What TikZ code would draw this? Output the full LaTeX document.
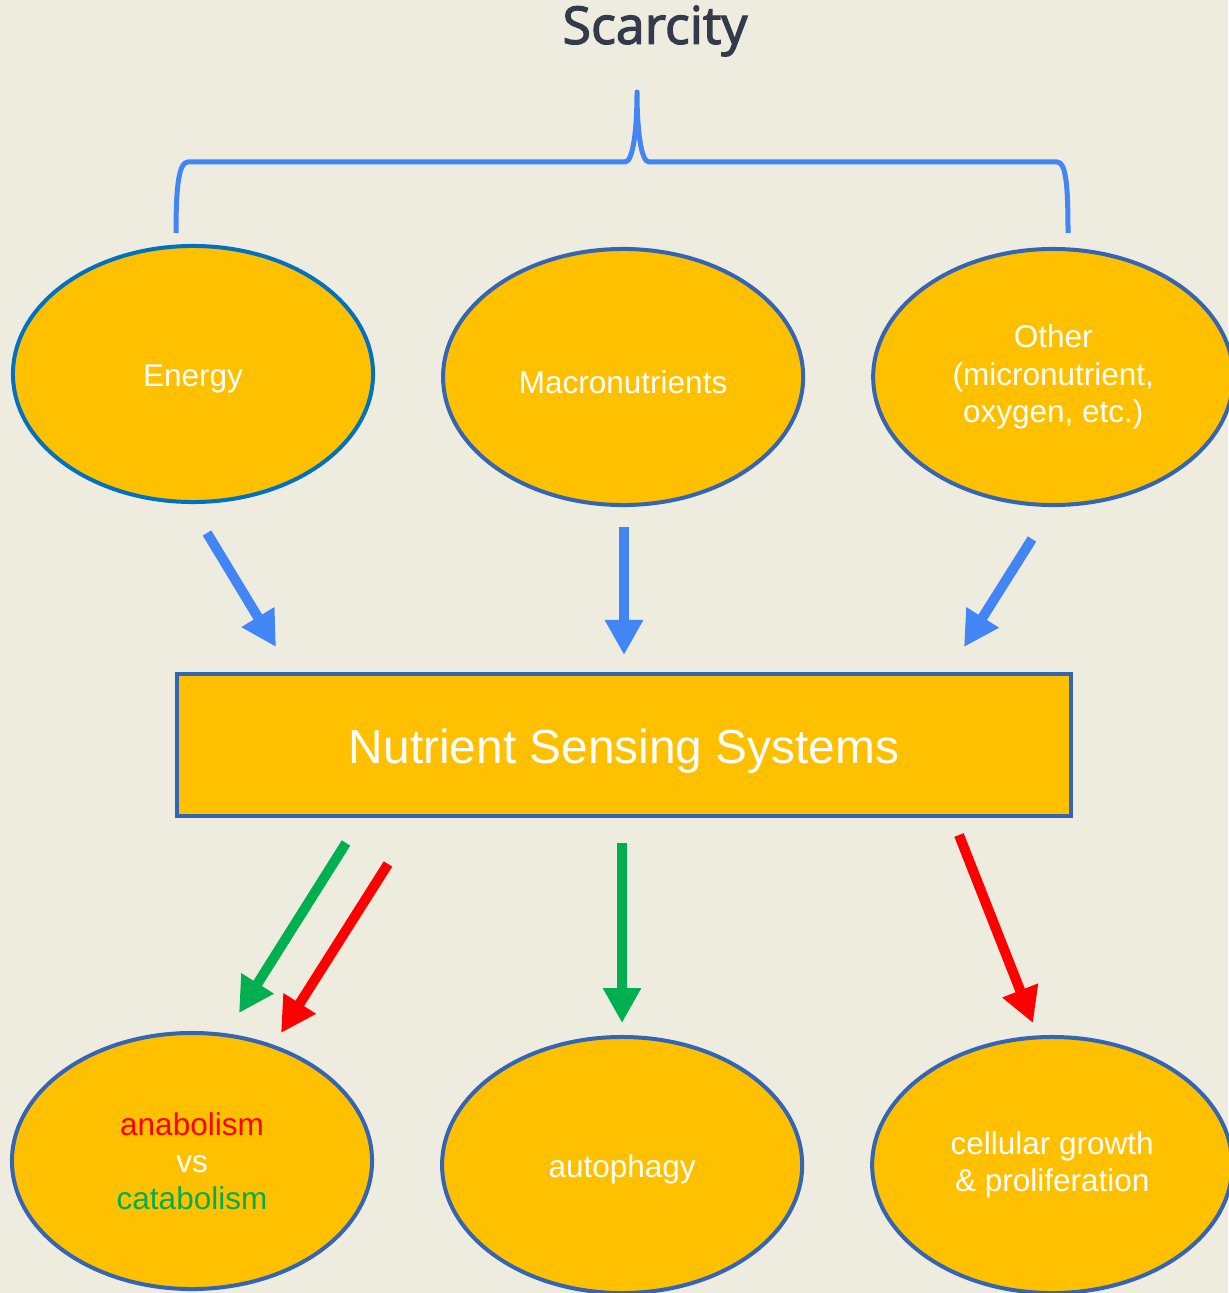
\documentclass[tikz,border=0pt]{standalone}
\usepackage{fontspec}
\setmainfont{Liberation Sans}
\newfontfamily\headfont{Open Sans}[FakeBold=2.4]
\usepackage{tikz}
\usetikzlibrary{
  arrows.meta,
  positioning,
  shapes.geometric
}
\definecolor{PaperBeige}{RGB}{238,236,223}
\definecolor{SenseAmber}{RGB}{255,192,0}
\definecolor{RimBlue}{RGB}{52,100,180}
\definecolor{EnergyRim}{RGB}{0,112,192}
\definecolor{BraceBlue}{RGB}{66,133,244}
\definecolor{HeadSlate}{RGB}{51,58,73}
\definecolor{CataGreen}{RGB}{0,176,80}
\definecolor{AnaRed}{RGB}{255,0,0}
\tikzset{
  blob/.style={ellipse,draw=RimBlue,fill=SenseAmber,line width=0.1cm,minimum width=9cm,minimum height=6.4cm,inner sep=0pt,align=center,text=white,font=\fontsize{22.4}{26.5}\selectfont},
  lowtext/.style={execute at begin node={\rule{0pt}{23pt}}},
  lowlines/.style={execute at begin node={\vspace*{#1}}},
  lowlines/.default=7pt,
  sensebox/.style={rectangle,draw=RimBlue,fill=SenseAmber,line width=0.1cm,minimum width=22.35cm,minimum height=3.55cm,text=white,font=\fontsize{34}{40}\selectfont,execute at begin node={\rule{0pt}{33pt}}},
  feedarrow/.style={-{Triangle[length=0.875cm,width=0.9cm]},line width=0.25cm,draw=BraceBlue},
  greenarrow/.style={-{Triangle[length=0.875cm,width=0.9cm]},line width=0.25cm,draw=CataGreen},
  redarrow/.style={-{Triangle[length=0.875cm,width=0.9cm]},line width=0.25cm,draw=AnaRed},
  bracepath/.style={line width=0.125cm,draw=BraceBlue,line join=round}
}

\begin{document}
\begin{tikzpicture}[x=0.025cm,y=-0.025cm]
\fill[PaperBeige] (0,0) rectangle (1228,1293);
\useasboundingbox (0,0) rectangle (1228,1293);
% heading and brace
\node[font=\headfont\fontsize{37}{44}\selectfont,text=HeadSlate] (scarce) at (655,31) {Scarcity};
\draw[bracepath] (176,233) .. controls (176,185) and (179,162) .. (188,162) -- (625,162)
  .. controls (633,162) and (637,130) .. (637,92)
  .. controls (637,130) and (641,162) .. (649,162) -- (1057,162)
  .. controls (1066,162) and (1068,185) .. (1068,233);
% top row
\node[blob, lowtext, draw=EnergyRim] (energy) at (193,374) {Energy};
\node[blob, lowtext, right=1.65cm of energy, yshift=-0.075cm] (macro) {Macronutrients};
\node[blob, lowlines, right=1.65cm of macro] (other) {Other\\(micronutrient,\\oxygen, etc.)};
% sensing
\node[sensebox] (nss) at (624,745) {Nutrient Sensing Systems};
% bottom row
\node[blob] (anacat) at (192,1161) {\textcolor{AnaRed}{anabolism}\\vs\\\textcolor{CataGreen}{catabolism}};
\node[blob, lowtext, right=1.65cm of anacat, yshift=-0.1cm] (autoph) {autophagy};
\node[blob, lowlines, right=1.65cm of autoph] (growth) {cellular growth\\\& proliferation};
% arrow ends
\coordinate (e1) at (207,533);
\coordinate (e2) at (276,647);
\coordinate (m1) at (624,527);
\coordinate (m2) at (624,655);
\coordinate (o1) at (1032,539);
\coordinate (o2) at (964,647);
\coordinate (g1) at (346,843);
\coordinate (g2) at (239,1013);
\coordinate (r1) at (388,864);
\coordinate (r2) at (281,1033);
\coordinate (a1) at (622,843);
\coordinate (a2) at (622,1023);
\coordinate (p1) at (959,835);
\coordinate (p2) at (1033,1023);
\draw[feedarrow] (e1) -- (e2);
\draw[feedarrow] (m1) -- (m2);
\draw[feedarrow] (o1) -- (o2);
\draw[greenarrow] (g1) -- (g2);
\draw[redarrow] (r1) -- (r2);
\draw[greenarrow] (a1) -- (a2);
\draw[redarrow] (p1) -- (p2);
\end{tikzpicture}
\end{document}
